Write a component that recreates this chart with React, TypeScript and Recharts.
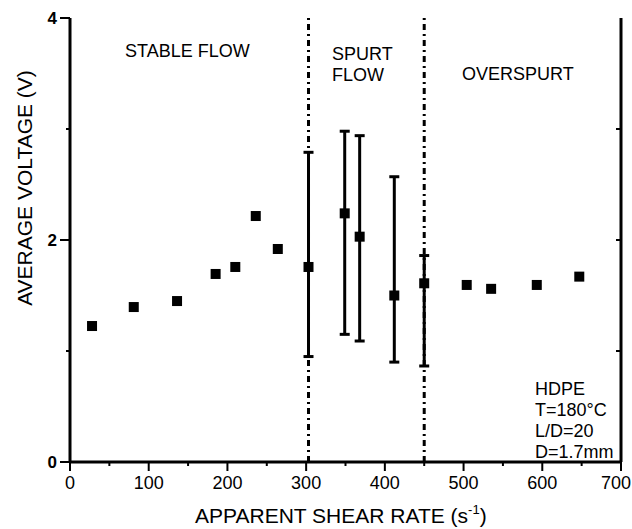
import React from 'react';
import {
  ScatterChart,
  Scatter,
  XAxis,
  YAxis,
  ErrorBar,
  ReferenceLine,
  Customized,
} from 'recharts';

// stable flow region
const stableRate = [28, 81, 136, 185, 210, 236, 264];
const stableVolt = [1.225, 1.396, 1.45, 1.694, 1.757, 2.216, 1.919];

// spurt flow region, with min / max of the fluctuating signal
const spurtRate = [303, 349, 368, 412, 450];
const spurtVolt = [1.757, 2.24, 2.03, 1.5, 1.61];
const spurtHigh = [2.79, 2.98, 2.94, 2.57, 1.86];
const spurtLow = [0.95, 1.15, 1.09, 0.9, 0.865];

// overspurt region
const overRate = [504, 535, 593, 647];
const overVolt = [1.595, 1.56, 1.595, 1.67];

const regionBounds = [303, 450];

const xTicks = [0, 50, 100, 150, 200, 250, 300, 350, 400, 450, 500, 550, 600, 650, 700];
const topTicks = [50, 100, 150, 200, 250, 300, 350, 400, 450, 500, 550, 600, 650];
const yTicks = [0, 1, 2, 3, 4];
const rightTicks = [1, 2, 3];

const stableData = stableRate.map((x, i) => ({ x, y: stableVolt[i] }));
const spurtData = spurtRate.map((x, i) => ({
  x,
  y: spurtVolt[i],
  err: [spurtVolt[i] - spurtLow[i], spurtHigh[i] - spurtVolt[i]],
}));
const overData = overRate.map((x, i) => ({ x, y: overVolt[i] }));

const FONT = '"Liberation Sans", Arial, sans-serif';

const Square = (props: any) => (
  <rect x={props.cx - 5} y={props.cy - 5} width={10} height={10} fill="#000" />
);

const BottomTick = (props: any) => {
  const { x, y, payload } = props;
  const major = payload.value % 100 === 0;
  // last label sits against the page edge
  const shift = payload.value === 700 ? -5 : 0;
  return (
    <g>
      <line x1={x} y1={y} x2={x} y2={y + (major ? 9 : 4)} stroke="#000" strokeWidth={2} />
      {major && (
        <text x={x + shift} y={y + 27} textAnchor="middle" fontSize={18} fontFamily={FONT} fill="#000">
          {payload.value}
        </text>
      )}
    </g>
  );
};

const LeftTick = (props: any) => {
  const { x, y, payload } = props;
  const major = payload.value % 2 === 0;
  return (
    <g>
      <line x1={x - (major ? 10 : 4)} y1={y} x2={x} y2={y} stroke="#000" strokeWidth={2} />
      {major && (
        <text
          x={x - 13}
          y={y + 6}
          textAnchor="end"
          fontSize={17}
          fontWeight="bold"
          fontFamily={FONT}
          fill="#000"
        >
          {payload.value}
        </text>
      )}
    </g>
  );
};

const TopTick = (props: any) => (
  <line x1={props.x} y1={props.y} x2={props.x} y2={props.y + 5} stroke="#000" strokeWidth={2} />
);

const RightTick = (props: any) => (
  <line x1={props.x} y1={props.y} x2={props.x - 5} y2={props.y} stroke="#000" strokeWidth={2} />
);

const Annotations = () => (
  <g fontFamily={FONT} fontSize={18} fill="#000">
    <text x={125} y={57}>STABLE FLOW</text>
    <text x={332} y={60}>SPURT</text>
    <text x={332} y={81}>FLOW</text>
    <text x={462} y={80}>OVERSPURT</text>
    <text x={535} y={395}>HDPE</text>
    <text x={535} y={416}>T=180°C</text>
    <text x={535} y={437}>L/D=20</text>
    <text x={535} y={458}>D=1.7mm</text>
    <text transform="translate(32,188) rotate(-90)" textAnchor="middle" fontSize={21}>
      AVERAGE VOLTAGE (V)
    </text>
    <text x={195} y={523} fontSize={21}>
      APPARENT SHEAR RATE (s
      <tspan dy={-9} fontSize={13}>-1</tspan>
      <tspan dy={9}>)</tspan>
    </text>
  </g>
);

export default function App() {
  return (
    <div style={{ position: 'absolute', left: 0, top: 0, background: '#fff' }}>
      <ScatterChart width={632} height={529} margin={{ top: 18, right: 0, bottom: 0, left: 0 }}>
        <XAxis
          type="number"
          dataKey="x"
          domain={[0, 700]}
          ticks={xTicks}
          interval={0}
          height={67}
          tickSize={0}
          tickMargin={0}
          tickLine={false}
          axisLine={{ stroke: '#000', strokeWidth: 3 }}
          tick={BottomTick}
        />
        <XAxis
          xAxisId="top"
          orientation="top"
          type="number"
          dataKey="x"
          domain={[0, 700]}
          ticks={topTicks}
          interval={0}
          height={0}
          tickSize={0}
          tickMargin={0}
          tickLine={false}
          axisLine={{ stroke: '#000', strokeWidth: 3 }}
          tick={TopTick}
        />
        <YAxis
          type="number"
          dataKey="y"
          domain={[0, 4]}
          ticks={yTicks}
          interval={0}
          width={70}
          tickSize={0}
          tickMargin={0}
          tickLine={false}
          axisLine={{ stroke: '#000', strokeWidth: 3 }}
          tick={LeftTick}
        />
        <YAxis
          yAxisId="right"
          orientation="right"
          type="number"
          dataKey="y"
          domain={[0, 4]}
          ticks={rightTicks}
          interval={0}
          width={11}
          tickSize={0}
          tickMargin={0}
          tickLine={false}
          axisLine={{ stroke: '#000', strokeWidth: 3 }}
          tick={RightTick}
        />
        {regionBounds.map((b) => (
          <ReferenceLine key={b} x={b} stroke="#000" strokeWidth={3} strokeDasharray="6 4 2 4" />
        ))}
        <Scatter data={stableData} shape={Square} isAnimationActive={false} />
        <Scatter data={spurtData} shape={Square} isAnimationActive={false}>
          <ErrorBar dataKey="err" direction="y" width={5} stroke="#000" strokeWidth={3} />
        </Scatter>
        <Scatter data={overData} shape={Square} isAnimationActive={false} />
        <Scatter
          data={overData}
          xAxisId="top"
          yAxisId="right"
          shape={() => <g />}
          isAnimationActive={false}
        />
        <Customized component={Annotations} />
      </ScatterChart>
    </div>
  );
}
